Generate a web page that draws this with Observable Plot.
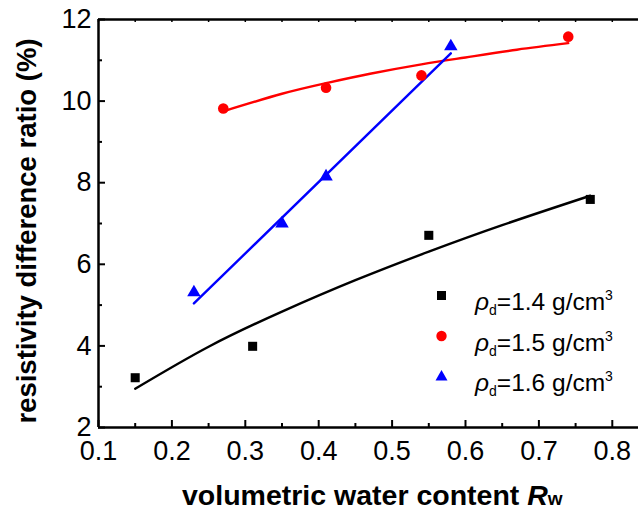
<!DOCTYPE html>
<html><head><meta charset="utf-8">
<script src="https://cdn.jsdelivr.net/npm/d3@7"></script>
<script src="https://cdn.jsdelivr.net/npm/@observablehq/plot@0.6"></script>
<style>
body{margin:0;background:#fff;}
#chart{position:relative;width:638px;height:510px;font-family:"Liberation Sans",Arial,Helvetica,sans-serif;}
#chart svg{font-family:"Liberation Sans",Arial,Helvetica,sans-serif;overflow:visible;}
.leg{position:absolute;left:432px;height:30px;font-size:24.5px;line-height:30px;white-space:nowrap;color:#000;}
.leg svg{position:absolute;left:0;top:5px;}
.leg span.t{position:absolute;left:43px;top:0;}
.leg sub{font-size:14px;vertical-align:-5px;}
.leg sup{font-size:14px;vertical-align:10px;}
</style></head><body>
<div id="chart"></div>
<script>
// ---- data ----
const xTicks = [0.1, 0.2, 0.3, 0.4, 0.5, 0.6, 0.7, 0.8];
const xMinorTicks = [0.15, 0.25, 0.35, 0.45, 0.55, 0.65, 0.75];
const yTicks = [2, 4, 6, 8, 10, 12];
const yMinorTicks = [3, 5, 7, 9, 11];
const seriesNames = ["1.4", "1.5", "1.6"];
const seriesColors = ["#000000", "#ff0000", "#0000ff"];
const seriesSymbols = ["square", "circle", "triangle"];

const rw14 = [0.15, 0.31, 0.55, 0.77];
const ratio14 = [3.22, 3.99, 6.71, 7.59];
const rw15 = [0.27, 0.41, 0.54, 0.74];
const ratio15 = [9.82, 10.33, 10.63, 11.58];
const rw16 = [0.23, 0.35, 0.41, 0.58];
const ratio16 = [5.31, 7.0, 8.15, 11.34];

// fitted curves
const fitX14 = [0.15, 0.25, 0.35, 0.45, 0.55, 0.65, 0.77];
const fitY14 = [2.95, 3.98, 4.84, 5.61, 6.31, 6.96, 7.68];
const fitX15 = [0.27, 0.35, 0.41, 0.47, 0.54, 0.60, 0.67, 0.74];
const fitY15 = [9.75, 10.18, 10.44, 10.67, 10.90, 11.07, 11.26, 11.42];
const fitX16 = [0.23, 0.58];
const fitY16 = [5.04, 11.17];

const xLabelMain = "volumetric water content ";
const yLabel = "resistivity difference ratio (%)";

// ---- build ----
const zip = (xs, ys) => xs.map((x, i) => ({x, y: ys[i]}));
const pts = [zip(rw14, ratio14), zip(rw15, ratio15), zip(rw16, ratio16)];
const fits = [zip(fitX14, fitY14), zip(fitX15, fitY15), zip(fitX16, fitY16)];
const curves = ["natural", "natural", "linear"];
const radii = [5.1, 5.3, 5.0];

const W = 638, H = 510, mL = 98, mT = 19, mB = 83, mR = 0;
const fh = H - mT - mB, fw = W - mL - mR;

const marks = [];
fits.forEach((f, i) => marks.push(Plot.line(f, {x: "x", y: "y", stroke: seriesColors[i], strokeWidth: 2.4, curve: curves[i]})));
pts.forEach((p, i) => marks.push(Plot.dot(p, {x: "x", y: "y", symbol: seriesSymbols[i], r: radii[i], fill: seriesColors[i], stroke: "none"})));
// inward ticks
marks.push(Plot.tickX(xTicks, {x: d => d, insetTop: fh - 7, stroke: "#000", strokeWidth: 2}));
marks.push(Plot.tickX(xMinorTicks, {x: d => d, insetTop: fh - 4, stroke: "#000", strokeWidth: 2}));
marks.push(Plot.tickX(xTicks.concat(xMinorTicks), {x: d => d, insetBottom: fh - 3, stroke: "#000", strokeWidth: 1.5}));
marks.push(Plot.tickY(yTicks, {y: d => d, insetRight: fw - 7, stroke: "#000", strokeWidth: 2}));
marks.push(Plot.tickY(yMinorTicks, {y: d => d, insetRight: fw - 4, stroke: "#000", strokeWidth: 2}));
// frame (left, bottom, top)
marks.push(Plot.ruleX([0.1], {stroke: "#000", strokeWidth: 2.5}));
marks.push(Plot.ruleY([2, 12], {stroke: "#000", strokeWidth: 2.5}));
marks.push(Plot.axisX(xTicks, {tickSize: 0, tickPadding: 13, tickFormat: d => d.toFixed(1), fontSize: 27, label: null}));
marks.push(Plot.axisY(yTicks, {tickSize: 0, tickPadding: 7, tickFormat: d => String(d), fontSize: 27, label: null}));

const chart = Plot.plot({
  width: W, height: H,
  marginLeft: mL, marginTop: mT, marginBottom: mB, marginRight: mR,
  x: {domain: [0.1, 0.8357]},
  y: {domain: [2, 12]},
  style: {fontFamily: '"Liberation Sans", Arial, sans-serif', color: "#000", background: "#fff"},
  marks
});
document.getElementById("chart").appendChild(chart);

const svg = d3.select(chart);
const xl = svg.append("text")
  .attr("x", 182).attr("y", 505)
  .attr("text-anchor", "start")
  .attr("font-size", 28.5).attr("font-weight", "bold").attr("fill", "#000");
xl.append("tspan").text(xLabelMain);
xl.append("tspan").attr("font-style", "italic").text("R");
xl.append("tspan").attr("font-size", 19).text("w");

svg.append("text")
  .attr("transform", "translate(36,231) rotate(-90)")
  .attr("text-anchor", "middle")
  .attr("font-size", 27.5).attr("font-weight", "bold").attr("fill", "#000")
  .text(yLabel);

// legend
const legTops = [280, 321, 361];
const host = document.getElementById("chart");
seriesNames.forEach((n, i) => {
  const row = document.createElement("div");
  row.className = "leg";
  row.style.top = legTops[i] + "px";
  const c = seriesColors[i];
  let shape;
  if (i === 0) shape = `<rect x="5" y="6" width="9" height="9" fill="${c}"/>`;
  else if (i === 1) shape = `<circle cx="9.5" cy="10" r="5.2" fill="${c}"/>`;
  else shape = `<polygon points="9.5,4 15.5,14.5 3.5,14.5" fill="${c}"/>`;
  row.innerHTML = `<svg width="19" height="19">${shape}</svg><span class="t"><i>ρ</i><sub>d</sub>=${n} g/cm<sup>3</sup></span>`;
  host.appendChild(row);
});
</script>
</body></html>
